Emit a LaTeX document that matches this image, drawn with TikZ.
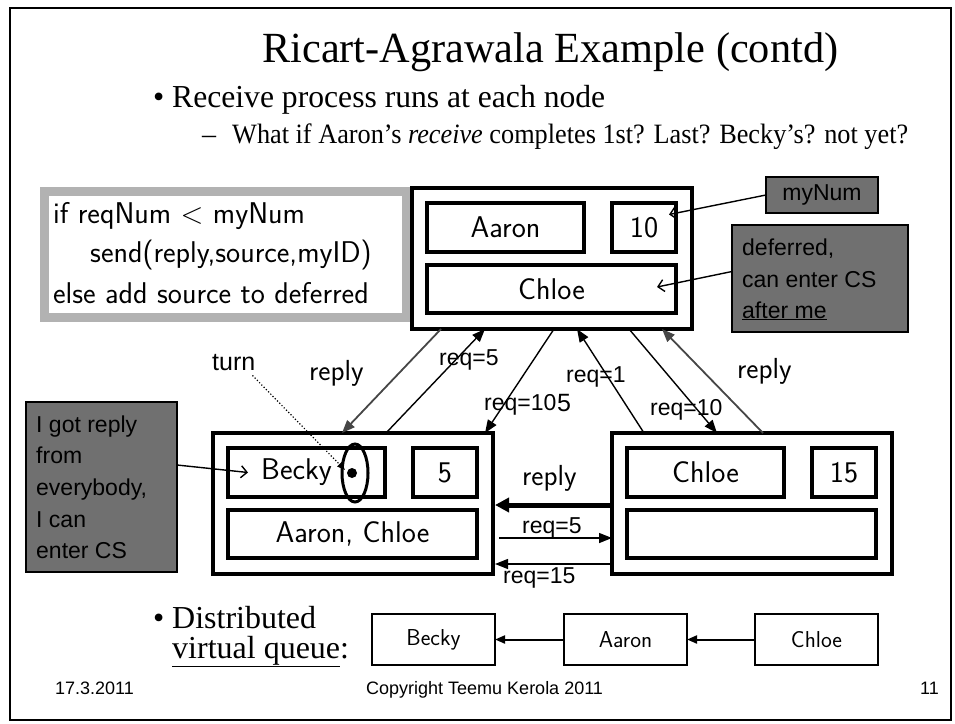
\documentclass[tikz,border=0pt]{standalone}
\usepackage{fontspec}
\setmainfont{Liberation Serif}
\newfontfamily\arial{Liberation Sans}
\usetikzlibrary{arrows.meta}
\definecolor{notegray}{RGB}{112,112,112}
\definecolor{framegray}{RGB}{178,178,178}
\definecolor{replygray}{RGB}{70,70,70}
\newcommand\fitw[2]{\resizebox{#1}{\height}{#2}}
\newcommand\procbox[6]{%
 \node[outerbox] (#1) at (#2,#3) {};
 \node[inbox, minimum width=157pt] (#1n) at ({#2+15},{#3+15}) {#4};
 \node[inbox, minimum width=64pt] (#1k) at ({#2+200},{#3+15}) {#5};
 \node[inbox, minimum width=249pt, minimum height=48pt] (#1d) at ({#2+15},{#3+77}) {#6};
}
\begin{document}
\begin{tikzpicture}[x=1pt,y=-1pt,
  outerbox/.style={draw, line width=4pt, minimum width=280pt, minimum height=141pt, anchor=north west, inner sep=0pt, outer sep=0pt},
  inbox/.style={draw, line width=3.5pt, minimum height=49pt, anchor=north west, inner sep=0pt, outer sep=0pt, font=\sffamily\fontsize{30}{36}\selectfont},
  qbox/.style={draw, line width=2.5pt, minimum width=123pt, minimum height=51pt, anchor=north west, inner sep=0pt, outer sep=0pt, font=\sffamily\fontsize{23}{28}\selectfont},
  tri/.style={-{Triangle[length=13pt,width=10pt]}, line width=1.4pt},
  barb/.style={-{Straight Barb[length=6pt,width=12pt]}, line width=1.4pt},
  arl/.style={font=\arial\fontsize{23}{27}\selectfont, inner sep=0pt, anchor=base west},
  cml/.style={font=\sffamily\fontsize{29}{34}\selectfont, inner sep=0pt, anchor=base west},
  note/.style={draw, line width=1.4pt, fill=notegray, anchor=north west, inner sep=0pt, outer sep=0pt},
  foot/.style={font=\arial\fontsize{18}{22}\selectfont, inner sep=0pt, anchor=base west},
  tx/.style={inner sep=0pt, anchor=base west},
]
\useasboundingbox (0,0) rectangle (955,723);
\draw[line width=2.5pt] (10,8) rectangle (951,720);

% title and bullets
\node[tx, font=\fontsize{43}{50}\selectfont] (title) at (262,62) {\fitw{576pt}{Ricart-Agrawala Example (contd)}};
\node[tx, font=\fontsize{32}{38}\selectfont] (b1) at (153,107) {\textbullet};
\node[tx, font=\fontsize{32}{38}\selectfont] (t1) at (172,107) {\fitw{433pt}{Receive process runs at each node}};
\node[tx, font=\fontsize{28}{34}\selectfont] (d1) at (202,143) {\textendash};
\node[tx, font=\fontsize{28}{34}\selectfont] (t2) at (232,143) {\fitw{676pt}{What if Aaron’s \textit{receive} completes 1st? Last? Becky’s? not yet?}};

% code box
\node[draw=framegray, line width=9pt, minimum width=362pt, minimum height=126pt, anchor=north west, inner sep=0pt, outer sep=0pt] (code) at (44.5,191) {};
\node[cml, font=\sffamily\fontsize{30}{36}\selectfont] (c1) at (53,223) {if reqNum < myNum};
\node[cml, font=\sffamily\fontsize{30}{36}\selectfont] (c2) at (90,262) {send(reply,source,myID)};
\node[cml, font=\sffamily\fontsize{30}{36}\selectfont] (c3) at (53,303) {else add source to deferred};

% process nodes
\procbox{A}{412}{188}{Aaron}{10}{Chloe}
\procbox{B}{213}{433}{Becky\hspace*{20pt}}{5}{Aaron, Chloe}
\procbox{C}{612}{433}{Chloe}{15}{}

% arrows between Aaron and Becky / Chloe
\draw[tri, draw=replygray, line width=1.8pt] ([xshift=29pt]A.south west) -- ([xshift=129pt]B.north west);
\draw[tri] ([xshift=173pt]B.north west) -- ([xshift=73pt]A.south west);
\draw[tri] ([xshift=142pt]A.south west) -- ([xshift=272pt]B.north west);
\draw[tri] ([xshift=32pt]C.north west) -- ([xshift=165pt]A.south west);
\draw[tri] ([xshift=217pt]A.south west) -- ([xshift=105pt]C.north west);
\draw[tri, draw=replygray, line width=1.8pt] ([xshift=151pt]C.north west) -- ([xshift=250pt]A.south west);

% arrows between Becky and Chloe
\draw[-{Triangle[length=14pt,width=14pt]}, line width=5pt] ([yshift=-72pt]C.north west) -- ([xshift=2pt,yshift=-72pt]B.north east);
\draw[tri] ([xshift=6pt,yshift=-105pt]B.north east) -- ([yshift=-105pt]C.north west);
\draw[tri] ([yshift=-131pt]C.north west) -- ([xshift=2pt,yshift=-131pt]B.north east);

% labels
\node[cml] (rl) at (309,380) {reply};
\node[arl] (r5) at (439,365) {req=5};
\node[arl] (r10a) at (484,410) {req=10};
\node[arl, font=\arial\fontsize{25}{30}\selectfont] (r10b) at (557,411) {5};
\node[arl] (r1) at (566,382) {req=1};
\node[arl] (r10c) at (650,415) {req=10};
\node[cml] (rr) at (737,378) {reply};
\node[cml] (rm) at (522,485) {reply};
\node[arl] (r5b) at (522,533) {req=5};
\node[arl] (r15) at (503,583) {req=15};
\node[arl, font=\arial\fontsize{25}{30}\selectfont] (turn) at (212,370) {turn};

% turn marker
\draw[line width=3pt] (355,473) ellipse [x radius=13pt, y radius=29pt];
\node[circle, fill, inner sep=0pt, minimum size=10pt] (dot) at (352,473) {};
\draw[dotted, line width=1.2pt, -{Triangle[length=8pt,width=6pt]}] ([xshift=-3pt,yshift=-5pt]turn.south east) -- ([xshift=-7pt,yshift=3pt]dot.center);

% gray notes
\node[note, minimum width=112pt, minimum height=36pt, font=\arial\fontsize{23}{27}\selectfont] (mynum) at (766,177) {myNum};
\node[note, minimum width=176pt, minimum height=107pt] (defn) at (732,225) {};
\node[arl] (df1) at (742,255) {deferred,};
\node[arl] (df2) at (742,287) {can enter CS};
\node[arl] (df3) at (742,318) {\underline{after me}};
\node[note, minimum width=151pt, minimum height=170pt] (gotn) at (26,402) {};
\node[arl] (g1) at (36,432) {I got reply};
\node[arl] (g2) at (36,463) {from};
\node[arl] (g3) at (36,495) {everybody,};
\node[arl] (g4) at (36,527) {I can};
\node[arl] (g5) at (36,558) {enter CS};

\draw[barb] (mynum.west) -- ([xshift=-7pt,yshift=13pt]Ak.east);
\draw[barb] ([yshift=7pt]defn.west) -- ([xshift=-19pt,yshift=2pt]Ad.east);
\draw[barb] ([yshift=22pt]gotn.east) -- ([xshift=20pt]Bn.west);

% distributed virtual queue
\node[tx, font=\fontsize{32}{38}\selectfont] (b2) at (153,628) {\textbullet};
\node[tx, font=\fontsize{32}{38}\selectfont] (q1) at (172,628) {Distributed};
\node[tx, font=\fontsize{32}{38}\selectfont] (q2) at (172,658) {\underline{virtual queue}:};
\node[qbox] (qb) at (372,614) {Becky};
\node[qbox] (qa) at (564,614) {Aaron};
\node[qbox] (qc) at (755,614) {Chloe};
\draw[-{Triangle[length=10pt,width=8pt]}, line width=2pt] (qa.west) -- (qb.east);
\draw[-{Triangle[length=10pt,width=8pt]}, line width=2pt] (qc.west) -- (qa.east);

% footer
\node[foot] (f1) at (55,694) {17.3.2011};
\node[foot] (f2) at (366,694) {Copyright Teemu Kerola 2011};
\node[foot] (f3) at (920,694) {11};
\end{tikzpicture}
\end{document}
